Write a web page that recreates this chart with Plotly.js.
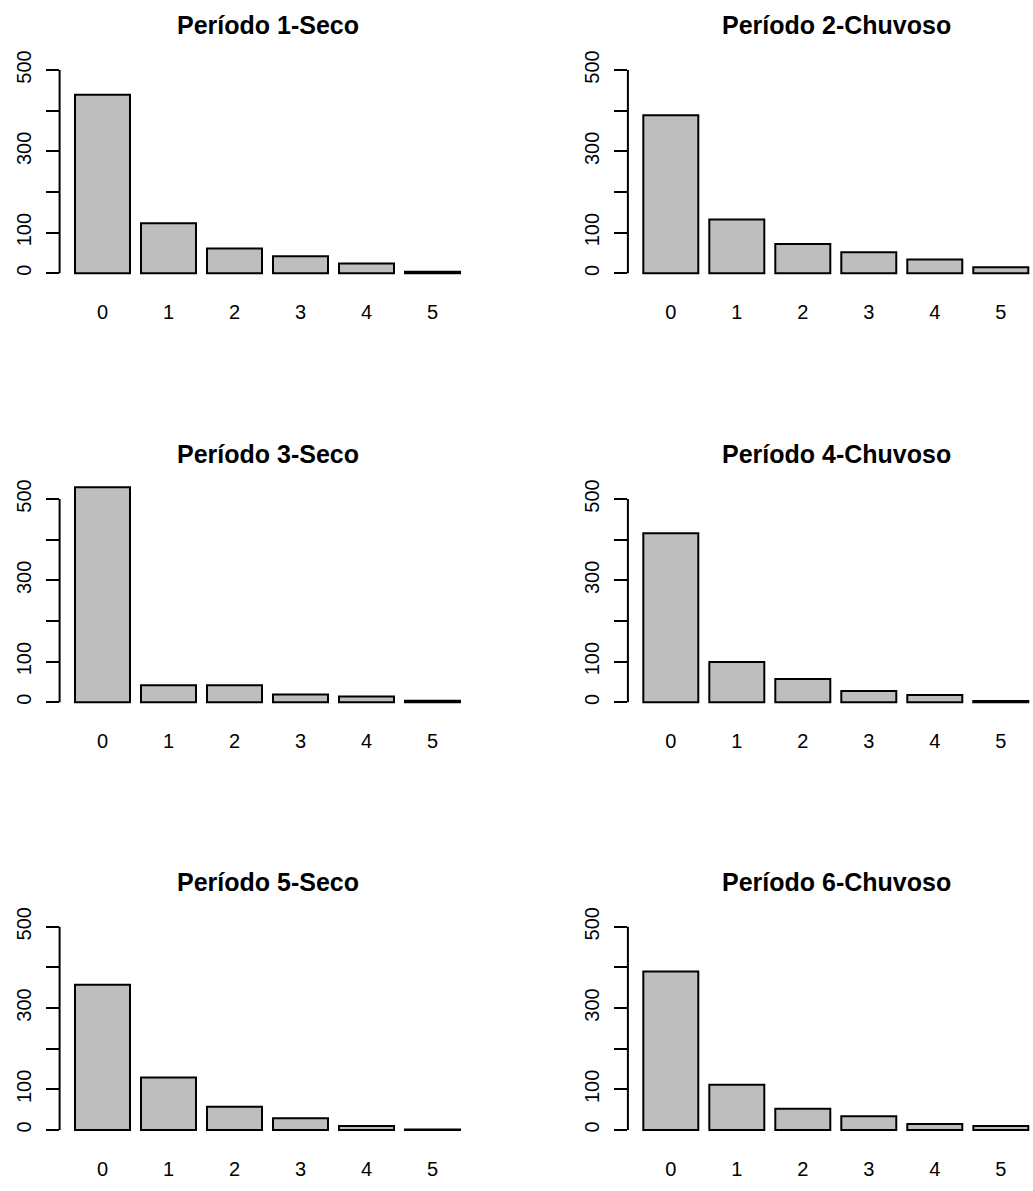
<!DOCTYPE html>
<html>
<head>
<meta charset="utf-8">
<script src="https://cdn.plot.ly/plotly-3.0.1.min.js"></script>
<style>
  html, body { margin: 0; padding: 0; background: #ffffff; }
  #chart { width: 1033px; height: 1191px; }
</style>
</head>
<body>
<div id="chart"></div>
<script>
// ---- Data ----
const categories = ['0', '1', '2', '3', '4', '5'];
const titles = ['Período 1-Seco', 'Período 2-Chuvoso', 'Período 3-Seco',
                'Período 4-Chuvoso', 'Período 5-Seco', 'Período 6-Chuvoso'];
const periodo1 = [439, 123, 61, 42, 24, 4];
const periodo2 = [389, 132, 72, 52, 34, 15];
const periodo3 = [529, 42, 42, 19, 14, 4];
const periodo4 = [416, 99, 57, 28, 18, 3];
const periodo5 = [357, 129, 57, 29, 10, 1];
const periodo6 = [390, 111, 52, 34, 15, 10];
const yTickVals = [0, 100, 200, 300, 400, 500];
const yTickText = ['0', '100', '', '300', '', '500'];
const series = [periodo1, periodo2, periodo3, periodo4, periodo5, periodo6];

// ---- Layout geometry (pixels) ----
const W = 1033, H = 1191;
const colLeft = [59.6, 627.9];           // plot-area left edge (px)
const colRight = [475.4, 1033];          // plot-area right edge (px)
const colCenter = [267.5, 836.0];        // title centres (px)
const xRanges = [[-0.65, 5.65], [-0.65, 5.488]];
const rowZero = [273.3, 702.3, 1130.0];  // pixel y of value 0
const pxPerUnit = 203.3 / 500;
const yRange = [-20, 560];
const titleOffset = 248;

const font = 'Liberation Sans, Arial, sans-serif';
const traces = [];
const layout = {
  width: W, height: H,
  margin: {l: 0, r: 0, t: 0, b: 0},
  paper_bgcolor: '#ffffff', plot_bgcolor: '#ffffff',
  showlegend: false,
  hovermode: false,
  bargap: 0,
  annotations: [],
  shapes: [],
  font: {family: font, color: '#000000'}
};

series.forEach((vals, i) => {
  const row = Math.floor(i / 2), col = i % 2;
  const n = i + 1;
  const xa = n === 1 ? 'x' : 'x' + n;
  const ya = n === 1 ? 'y' : 'y' + n;
  const xKey = n === 1 ? 'xaxis' : 'xaxis' + n;
  const yKey = n === 1 ? 'yaxis' : 'yaxis' + n;

  traces.push({
    type: 'bar', x: categories, y: vals, xaxis: xa, yaxis: ya,
    width: 1 / 1.2,
    marker: {color: '#BEBEBE', line: {color: '#000000', width: 2}},
    hoverinfo: 'skip'
  });

  const z = rowZero[row];
  const bottomPx = z - yRange[0] * pxPerUnit;
  const topPx = z - yRange[1] * pxPerUnit;

  layout[xKey] = {
    domain: [colLeft[col] / W, colRight[col] / W],
    range: xRanges[col],
    anchor: ya,
    type: 'category',
    showgrid: false, zeroline: false, showline: false,
    ticks: '', ticklabelstandoff: 17,
    tickfont: {family: font, size: 20, color: '#000000'},
    fixedrange: true
  };
  layout[yKey] = {
    domain: [1 - bottomPx / H, 1 - topPx / H],
    range: yRange,
    anchor: xa,
    showgrid: false, zeroline: false, showline: false,
    tickmode: 'array', tickvals: yTickVals, ticktext: yTickText,
    ticks: 'outside', ticklen: 13, tickwidth: 2, tickcolor: '#000000',
    tickangle: -90, ticklabelstandoff: 7,
    tickfont: {family: font, size: 20, color: '#000000'},
    fixedrange: true
  };
  layout.shapes.push({
    type: 'line', xref: xa + ' domain', yref: ya,
    x0: 0, x1: 0, y0: 0, y1: 500,
    line: {color: '#000000', width: 2}
  });
  layout.annotations.push({
    text: '<b>' + titles[i] + '</b>',
    xref: 'paper', yref: 'paper',
    x: colCenter[col] / W,
    y: 1 - (z - titleOffset) / H,
    xanchor: 'center', yanchor: 'middle',
    showarrow: false,
    font: {family: font, size: 25, color: '#000000'}
  });
});

Plotly.newPlot('chart', traces, layout, {staticPlot: true, displayModeBar: false});
</script>
</body>
</html>
